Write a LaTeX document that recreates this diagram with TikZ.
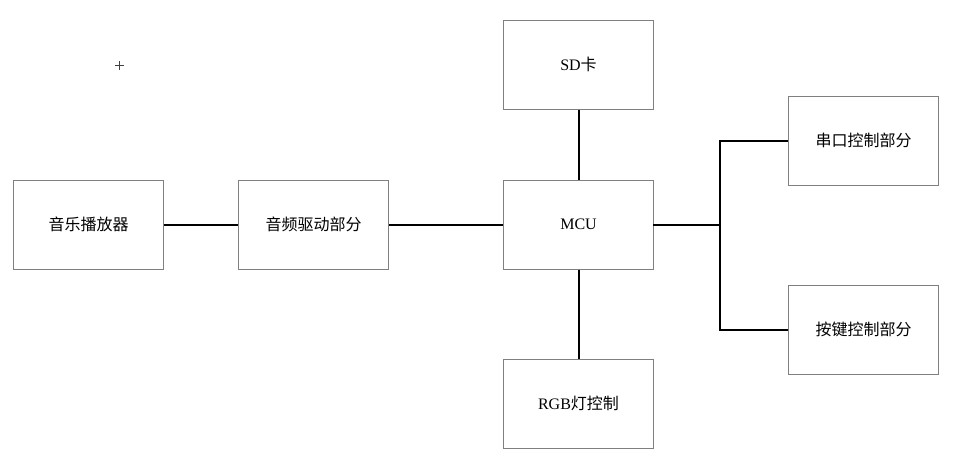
\documentclass[tikz,border=0pt]{standalone}
\usepackage{fontspec}
\usetikzlibrary{calc}
\setmainfont{Liberation Serif}
\newfontfamily\cjk{Noto Sans CJK SC}
\begin{document}
\begin{tikzpicture}[x=1pt,y=-1pt,
  blk/.style={draw=black!50, line width=1pt, minimum width=150pt, minimum height=89pt, inner sep=0pt, font=\fontsize{16}{19}\selectfont},
  wire/.style={draw=black, line width=2pt, line cap=rect}]
\useasboundingbox (0,0) rectangle (979,472);
\node[blk] (player) at (88.5,224.5) {\cjk 音乐播放器};
\node[blk] (drv) at (313.5,224.5) {\cjk 音频驱动部分};
\node[blk] (mcu) at (578.5,224.5) {MCU};
\node[blk] (sd) at (578.5,64.5) {SD\cjk 卡};
\node[blk] (rgb) at (578.5,403.5) {RGB\cjk 灯控制};
\node[blk] (uart) at (863.5,140.5) {\cjk 串口控制部分};
\node[blk] (key) at (863.5,329.5) {\cjk 按键控制部分};
\coordinate (j) at (720,224.5);
\draw[wire, line cap=butt] (player) -- (drv);
\draw[wire, line cap=butt] (drv) -- (mcu);
\draw[wire, line cap=butt] (mcu) -- (sd);
\draw[wire, line cap=butt] (mcu) -- (rgb);
\draw[wire] (mcu.east) -- (j);
\draw[wire, line cap=butt] (j) |- (uart.west);
\draw[wire, line cap=butt] (j) |- (key.west);
\coordinate (plus) at (119.5,65.5);
\draw[black!75, line width=1.2pt] ($(plus)+(-4.5,0)$) -- ($(plus)+(4.5,0)$) ($(plus)+(0,-4.5)$) -- ($(plus)+(0,4.5)$);
\end{tikzpicture}
\end{document}
